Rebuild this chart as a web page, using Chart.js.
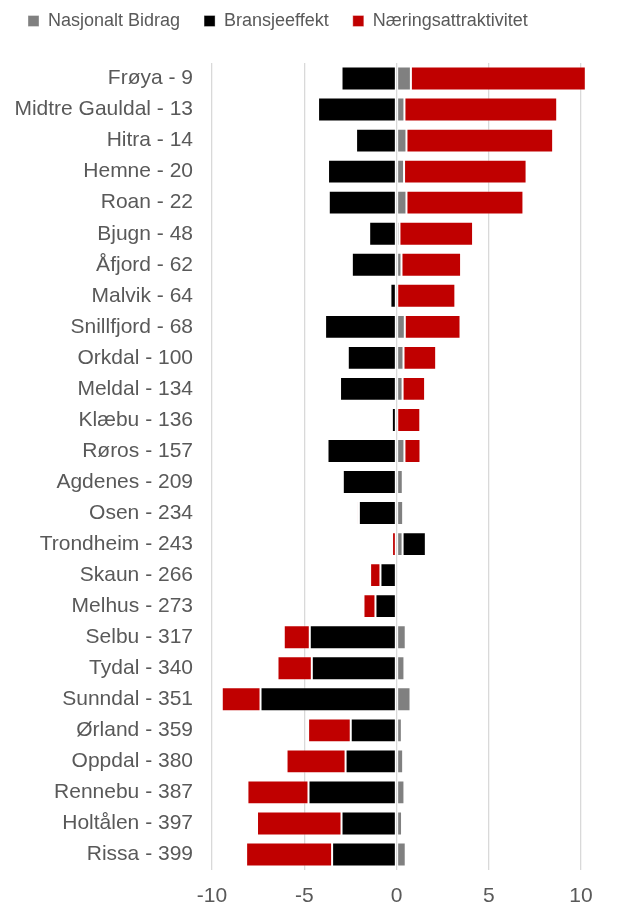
<!DOCTYPE html>
<html>
<head>
<meta charset="utf-8">
<title>Bidrag per kommune</title>
<script src="https://cdn.jsdelivr.net/npm/chart.js@4/dist/chart.umd.min.js"></script>
<style>
  body { margin: 0; background: #ffffff; }
  #chart { display: block; }
</style>
</head>
<body>
<canvas id="chart" width="617" height="904"></canvas>
<script>
const kommuner = [
  "Frøya - 9", "Midtre Gauldal - 13", "Hitra - 14", "Hemne - 20", "Roan - 22",
  "Bjugn - 48", "Åfjord - 62", "Malvik - 64", "Snillfjord - 68", "Orkdal - 100",
  "Meldal - 134", "Klæbu - 136", "Røros - 157", "Agdenes - 209", "Osen - 234",
  "Trondheim - 243", "Skaun - 266", "Melhus - 273", "Selbu - 317", "Tydal - 340",
  "Sunndal - 351", "Ørland - 359", "Oppdal - 380", "Rennebu - 387", "Holtålen - 397",
  "Rissa - 399",
];

const nasjonaltBidrag = [
  0.78, 0.43, 0.54, 0.41, 0.54, 0.16, 0.27, 0.04, 0.45, 0.38,
  0.33, 0.04, 0.43, 0.34, 0.36, 0.33, 0.11, 0.14, 0.5, 0.43,
  0.76, 0.29, 0.36, 0.43, 0.3, 0.5,
];

const bransjeeffekt = [
  -2.98, -4.25, -2.19, -3.71, -3.67, -1.48, -2.42, -0.33, -3.87, -2.64,
  -3.06, -0.25, -3.74, -2.91, -2.04, 1.26, -0.87, -1.14, -4.7, -4.59,
  -7.37, -2.48, -2.76, -4.77, -2.98, -3.49,
];

const naeringsattraktivitet = [
  9.48, 8.28, 7.95, 6.64, 6.34, 3.99, 3.23, 3.15, 3.02, 1.77,
  1.22, 1.25, 0.87, 0.09, -0.11, -0.24, -0.56, -0.65, -1.41, -1.86,
  -2.1, -2.31, -3.2, -3.31, -4.58, -4.66,
];

const xTicks = [-10, -5, 0, 5, 10];

const textColor = "#595959";
const fontFamily = "'Liberation Sans', Arial, sans-serif";

// keep legend on one line and leave room above the plot
const legendPlacer = {
  id: "legendPlacer",
  beforeInit(chart) {
    const legend = chart.legend;
    const fitOrig = legend.fit;
    legend.fit = function () {
      this.maxWidth = 2000;
      fitOrig.call(this);
      this.height = 63;
    };
  },
  beforeDraw(chart) {
    chart.legend.top = -12;
    chart.legend.left = 4;
  },
};

const whiteBg = {
  id: "whiteBg",
  beforeDraw(chart) {
    const ctx = chart.ctx;
    ctx.save();
    ctx.fillStyle = "#ffffff";
    ctx.fillRect(0, 0, chart.width, chart.height);
    ctx.restore();
  },
};

const makeSet = (label, data, color) => ({
  label: label,
  data: data,
  backgroundColor: color,
  borderColor: "rgba(255, 255, 255, 0.35)",
  borderWidth: 1,
  borderSkipped: false,
  barPercentage: 0.77,
  categoryPercentage: 1,
  clip: false,
});

const config = {
  type: "bar",
  data: {
    labels: kommuner,
    datasets: [
      makeSet("Nasjonalt Bidrag", nasjonaltBidrag, "#808080"),
      makeSet("Bransjeeffekt", bransjeeffekt, "#000000"),
      makeSet("Næringsattraktivitet", naeringsattraktivitet, "#c00000"),
    ],
  },
  options: {
    indexAxis: "y",
    responsive: false,
    animation: false,
    devicePixelRatio: 1,
    layout: { padding: { left: 0, right: 36, top: 0, bottom: 0 } },
    plugins: {
      tooltip: { enabled: false },
      legend: {
        position: "top",
        align: "start",
        labels: {
          boxWidth: 11,
          boxHeight: 11,
          padding: 24,
          color: textColor,
          font: { family: fontFamily, size: 18 },
        },
      },
    },
    scales: {
      x: {
        stacked: true,
        min: -10,
        max: 10,
        afterBuildTicks(scale) {
          scale.ticks = xTicks.map((v) => ({ value: v }));
        },
        afterFit(scale) {
          scale.height = 34;
        },
        grid: { color: "#d9d9d9", lineWidth: 1.3, drawTicks: false },
        border: { display: false },
        ticks: {
          padding: 14,
          color: textColor,
          font: { family: fontFamily, size: 21 },
        },
      },
      y: {
        stacked: true,
        afterFit(scale) {
          scale.width = 212;
        },
        grid: { display: false, drawTicks: false },
        border: { display: false },
        ticks: {
          padding: 19,
          autoSkip: false,
          color: textColor,
          font: { family: fontFamily, size: 21 },
        },
      },
    },
  },
  plugins: [whiteBg, legendPlacer],
};

const chart = new Chart(document.getElementById("chart"), config);
</script>
</body>
</html>
